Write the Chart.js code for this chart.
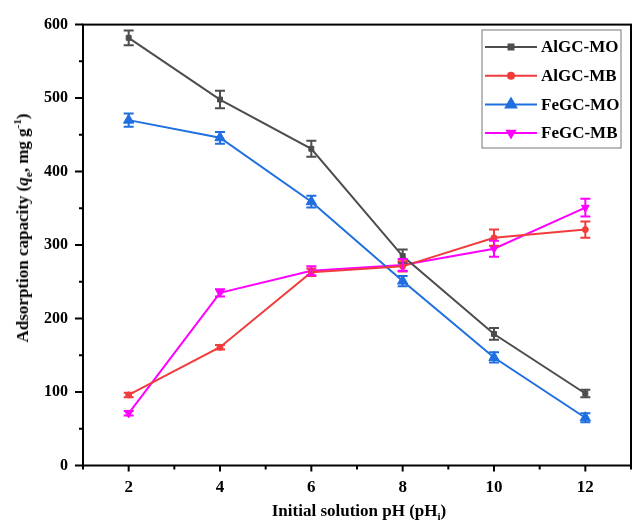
<!DOCTYPE html>
<html>
<head>
<meta charset="utf-8">
<script src="https://cdn.jsdelivr.net/npm/chart.js@4.4.1/dist/chart.umd.min.js"></script>
<style>
  html, body { margin: 0; padding: 0; background: #fff; }
  #wrap { position: relative; width: 638px; height: 523px; }
  .ttl { position: absolute; font-family: "Liberation Serif", "Times New Roman", serif; font-weight: bold; font-size: 17px; color: #000; white-space: nowrap; line-height: 1; }
  .ttl sub, .ttl sup { font-size: 11px; }
  #xTitle { left: 359px; top: 512px; transform: translate(-50%, -50%); }
  #yTitle { left: 23px; top: 228px; transform: translate(-50%, -50%) rotate(-90deg); }
</style>
</head>
<body>
<div id="wrap">
  <canvas id="chart" width="638" height="523"></canvas>
  <div class="ttl" id="xTitle">Initial solution pH (pH<sub>i</sub>)</div>
  <div class="ttl" id="yTitle">Adsorption capacity (<i>q</i><sub>e</sub>, mg g<sup>-1</sup>)</div>
</div>
<script>
// 데이터
const phValues = [2, 4, 6, 8, 10, 12];
const minorX = [1, 3, 5, 7, 9, 11, 13];
const yTicks = [0, 100, 200, 300, 400, 500, 600];
const yMinor = [50, 150, 250, 350, 450, 550];

const alMO = [582, 498, 431, 285, 179, 98];
const alMOErr = [10, 12, 11, 9, 8, 5];
const alMB = [96, 161, 263, 271, 310, 321];
const alMBErr = [3, 3, 5, 7, 11, 11];
const feMO = [470, 446, 359, 251, 147, 65];
const feMOErr = [9, 8, 8, 7, 7, 6];
const feMB = [71, 235, 265, 273, 295, 351];
const feMBErr = [3, 5, 6, 8, 11, 12];

const FONT = '"Liberation Serif", "Times New Roman", serif';

function toPoints(ys) {
    return phValues.map((x, i) => ({ x: x, y: ys[i] }));
}

function makeSet(label, ys, errs, color, style, radius, rotation) {
    return {
        label: label,
        data: toPoints(ys),
        errors: errs,
        borderColor: color,
        backgroundColor: color,
        borderWidth: 2,
        pointStyle: style,
        pointRadius: radius,
        pointRotation: rotation || 0,
        pointBorderWidth: 1,
        tension: 0
    };
}

// 오차 막대
const errorBars = {
    id: 'errorBars',
    afterDatasetsDraw(chart) {
        const ctx = chart.ctx;
        const xs = chart.scales.x, ys = chart.scales.y;
        ctx.save();
        chart.data.datasets.forEach(ds => {
            ctx.strokeStyle = ds.borderColor;
            ctx.lineWidth = 2;
            ds.data.forEach((p, i) => {
                const e = ds.errors[i];
                const px = xs.getPixelForValue(p.x);
                const top = ys.getPixelForValue(p.y + e);
                const bot = ys.getPixelForValue(p.y - e);
                ctx.beginPath();
                ctx.moveTo(px, top); ctx.lineTo(px, bot);
                ctx.moveTo(px - 5, top); ctx.lineTo(px + 5, top);
                ctx.moveTo(px - 5, bot); ctx.lineTo(px + 5, bot);
                ctx.stroke();
            });
        });
        ctx.restore();
    }
};

// 테두리와 눈금
const frame = {
    id: 'frame',
    afterDraw(chart) {
        const ctx = chart.ctx;
        const a = chart.chartArea;
        const xs = chart.scales.x, ys = chart.scales.y;
        ctx.save();
        ctx.strokeStyle = '#000';
        ctx.lineWidth = 2;
        ctx.strokeRect(a.left, a.top, a.right - a.left, a.bottom - a.top);
        ctx.beginPath();
        phValues.forEach(v => {
            const px = xs.getPixelForValue(v);
            ctx.moveTo(px, a.bottom); ctx.lineTo(px, a.bottom + 6);
        });
        minorX.forEach(v => {
            const px = xs.getPixelForValue(v);
            ctx.moveTo(px, a.bottom); ctx.lineTo(px, a.bottom + 4);
        });
        yTicks.forEach(v => {
            const py = ys.getPixelForValue(v);
            ctx.moveTo(a.left, py); ctx.lineTo(a.left - 8, py);
        });
        yMinor.forEach(v => {
            const py = ys.getPixelForValue(v);
            ctx.moveTo(a.left, py); ctx.lineTo(a.left - 4, py);
        });
        ctx.stroke();
        ctx.restore();
    }
};

// 범례 (그림 안쪽 오른쪽 위)
const boxLegend = {
    id: 'boxLegend',
    afterDraw(chart) {
        const ctx = chart.ctx;
        ctx.save();
        ctx.strokeStyle = '#777';
        ctx.lineWidth = 1;
        ctx.strokeRect(482, 30, 139, 118);
        ctx.font = 'bold 17px ' + FONT;
        ctx.textBaseline = 'middle';
        ctx.textAlign = 'left';
        chart.data.datasets.forEach((ds, i) => {
            const y = 47 + i * 28.7;
            ctx.strokeStyle = ds.borderColor;
            ctx.fillStyle = ds.backgroundColor;
            ctx.lineWidth = 2;
            ctx.beginPath();
            ctx.moveTo(485, y); ctx.lineTo(537, y);
            ctx.stroke();
            Chart.helpers.drawPoint(ctx, {
                pointStyle: ds.pointStyle,
                radius: ds.pointRadius,
                rotation: ds.pointRotation,
                borderWidth: 1
            }, 511, y);
            ctx.fillStyle = '#000';
            ctx.fillText(ds.label, 541, y + 1);
        });
        ctx.restore();
    }
};

new Chart(document.getElementById('chart'), {
    type: 'line',
    data: {
        datasets: [
            makeSet('AlGC-MO', alMO, alMOErr, '#4d4d4d', 'rect', 3.5),
            makeSet('AlGC-MB', alMB, alMBErr, '#f03c3c', 'circle', 3),
            makeSet('FeGC-MO', feMO, feMOErr, '#1f6fe0', 'triangle', 6),
            makeSet('FeGC-MB', feMB, feMBErr, '#ff00ff', 'triangle', 4.5, 180)
        ]
    },
    options: {
        responsive: false,
        animation: false,
        layout: { padding: { top: 21, right: 2, left: 0, bottom: 0 } },
        plugins: {
            legend: { display: false },
            tooltip: { enabled: false }
        },
        scales: {
            x: {
                type: 'linear',
                min: 1,
                max: 13,
                afterBuildTicks: s => { s.ticks = phValues.map(v => ({ value: v })); },
                afterFit: s => { s.height = 57.5; },
                grid: { display: false, drawTicks: false },
                border: { display: false },
                ticks: { color: '#000', padding: 12, font: { family: FONT, size: 17, weight: 'bold' } }
            },
            y: {
                min: 0,
                max: 600,
                afterBuildTicks: s => { s.ticks = yTicks.map(v => ({ value: v })); },
                afterFit: s => { s.width = 83; },
                grid: { display: false, drawTicks: false },
                border: { display: false },
                ticks: { color: '#000', padding: 15, font: { family: FONT, size: 16, weight: 'bold' } }
            }
        }
    },
    plugins: [errorBars, frame, boxLegend]
});
</script>
</body>
</html>
